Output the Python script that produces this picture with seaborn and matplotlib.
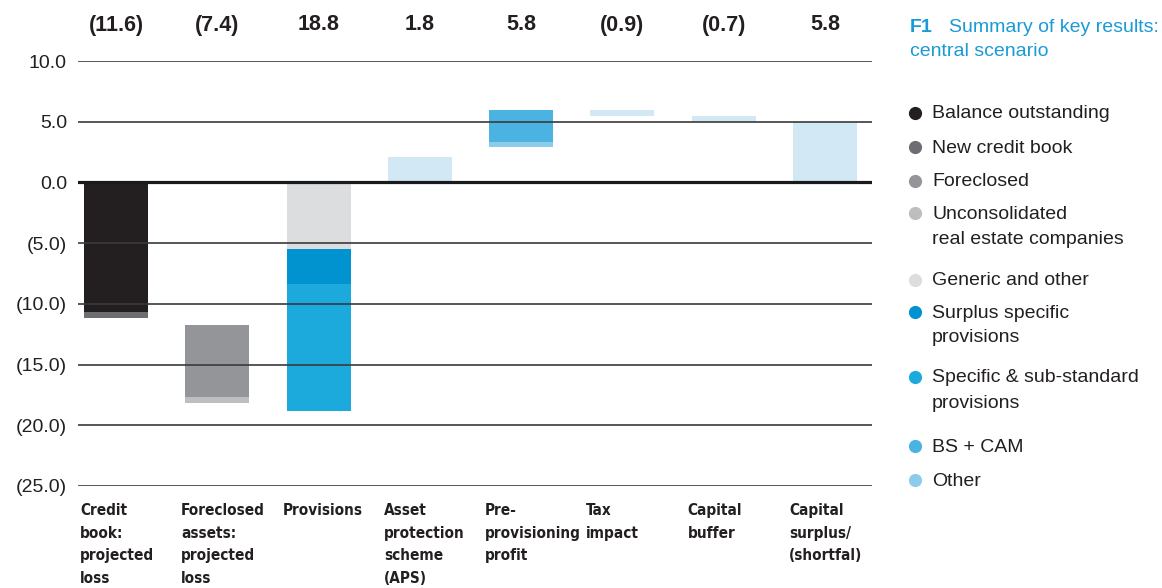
import matplotlib
matplotlib.use("Agg")
import matplotlib.pyplot as plt
import seaborn as sns

# Categories along the x axis and the headline figure printed above each one
categories = [
    "Credit\nbook:\nprojected\nloss",
    "Foreclosed\nassets:\nprojected\nloss",
    "Provisions",
    "Asset\nprotection\nscheme\n(APS)",
    "Pre-\nprovisioning\nprofit",
    "Tax\nimpact",
    "Capital\nbuffer",
    "Capital\nsurplus/\n(shortfal)",
]
headline = ["(11.6)", "(7.4)", "18.8", "1.8", "5.8", "(0.9)", "(0.7)", "5.8"]

# Floating bar segments: category index, component, lower and upper bound (EUR bn)
seg_cat = [0, 0, 1, 1, 2, 2, 2, 3, 4, 4, 5, 6, 7]
seg_series = [
    "Balance outstanding", "New credit book",
    "Foreclosed", "Unconsolidated\nreal estate companies",
    "Generic and other", "Surplus specific\nprovisions", "Specific & sub-standard\nprovisions",
    "Total",
    "Other", "BS + CAM",
    "Total", "Total", "Total",
]
seg_low = [-10.7, -11.2, -17.7, -18.2, -5.5, -8.4, -18.8, 0.0, 2.9, 3.3, 5.45, 5.0, 0.0]
seg_high = [0.0, -10.7, -11.7, -17.7, 0.0, -5.5, -8.4, 2.1, 3.3, 6.0, 6.0, 5.5, 5.0]

# Legend entries (in order) and their colours
legend_labels = [
    "Balance outstanding", "New credit book", "Foreclosed",
    "Unconsolidated\nreal estate companies", "Generic and other",
    "Surplus specific\nprovisions", "Specific & sub-standard\nprovisions",
    "BS + CAM", "Other",
]
palette = {
    "Balance outstanding": "#231f20",
    "New credit book": "#6d6e71",
    "Foreclosed": "#939598",
    "Unconsolidated\nreal estate companies": "#bcbec0",
    "Generic and other": "#dcdddf",
    "Surplus specific\nprovisions": "#0093d0",
    "Specific & sub-standard\nprovisions": "#1ca9dc",
    "BS + CAM": "#4ab3e2",
    "Other": "#8dcbeb",
    "Total": "#d2e8f5",
}

y_ticks = [10, 5, 0, -5, -10, -15, -20, -25]
y_tick_labels = ["10.0", "5.0", "0.0", "(5.0)", "(10.0)", "(15.0)", "(20.0)", "(25.0)"]

sns.set_theme(style="white")
plt.rcParams["font.family"] = ["Liberation Sans", "DejaVu Sans"]
text_col = "#231f20"
title_col = "#1a9ad6"

W, H = 1162, 588
fig = plt.figure(figsize=(W / 100, H / 100), dpi=100)
ax = fig.add_axes([78 / W, 1 - 486 / H, 794 / W, 425 / H])

bar_w = 0.632
for c, s, lo, hi in zip(seg_cat, seg_series, seg_low, seg_high):
    ax.bar(c, hi - lo, bottom=lo, width=bar_w, color=palette[s],
           linewidth=0, zorder=2)

# horizontal rules drawn over the bars
for t in y_ticks:
    if t == 0:
        ax.axhline(t, color="#1a1a1a", lw=2.3, zorder=4)
    else:
        ax.axhline(t, color="#3a3a3a", lw=1.2, zorder=3)

ax.set_xlim(-0.375, 7.464)
ax.set_ylim(-25, 10)
ax.set_yticks(y_ticks)
ax.set_yticklabels(y_tick_labels, fontsize=14, color=text_col)
ax.tick_params(axis="y", length=0, pad=8)
ax.set_xticks([])
for sp in ax.spines.values():
    sp.set_visible(False)

# headline values above each column
for i, h in enumerate(headline):
    ax.text(i, 1.0 + 36 / 425, h, transform=ax.get_xaxis_transform(),
            ha="center", va="center", fontsize=15.5, fontweight="bold",
            color=text_col)

# category names beneath the plot, left aligned with each bar
for i, lab in enumerate(categories):
    ax.text(i - bar_w / 2 - 0.04, -0.04, lab, transform=ax.get_xaxis_transform(),
            ha="left", va="top", fontsize=11, fontweight="bold",
            fontstretch="condensed", color=text_col, linespacing=1.63,
            family="DejaVu Sans")

# figure title
fig.text(910 / W, 1 - 27 / H, "F1", fontsize=14, fontweight="bold",
         color=title_col, va="center", ha="left")
fig.text(949 / W, 1 - 27 / H, "Summary of key results:", fontsize=14,
         color=title_col, va="center", ha="left")
fig.text(910 / W, 1 - 51 / H, "central scenario", fontsize=14,
         color=title_col, va="center", ha="left")

# legend: round markers with labels, one row per line of text
entry_y = [112, 146, 180, 212, 279, 311, 376, 445, 479]
line_gap = 25
for lab, y in zip(legend_labels, entry_y):
    fig.add_artist(plt.Line2D([915 / W], [1 - (y + 1) / H], marker="o",
                              markersize=9.5, markeredgewidth=0,
                              markerfacecolor=palette[lab], linestyle=""))
    for k, line in enumerate(lab.split("\n")):
        fig.text(932 / W, 1 - (y + 2 + k * line_gap) / H, line, fontsize=14,
                 color=text_col, va="center", ha="left")

fig.savefig("out.png", dpi=100)
